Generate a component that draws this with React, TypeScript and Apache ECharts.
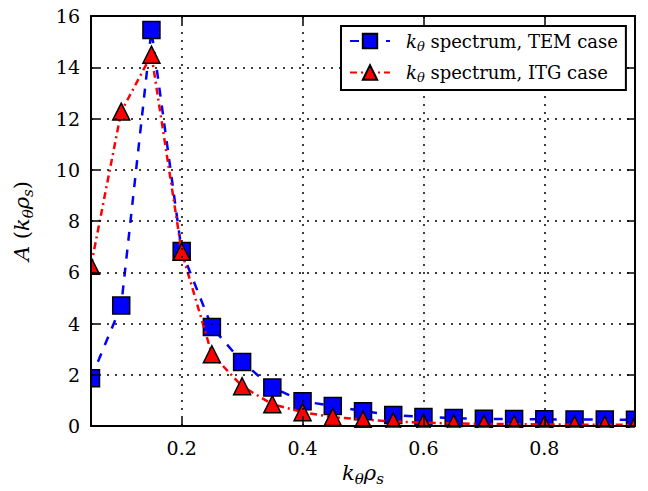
import React, { useEffect, useRef } from "react";
import * as echarts from "echarts";

const kValues = [0.05, 0.1, 0.15, 0.2, 0.25, 0.3, 0.35, 0.4, 0.45, 0.5, 0.55, 0.6, 0.65, 0.7, 0.75, 0.8, 0.85, 0.9, 0.95];
const temValues = [1.86, 4.7, 15.45, 6.83, 3.86, 2.5, 1.5, 0.97, 0.78, 0.58, 0.43, 0.35, 0.31, 0.28, 0.27, 0.26, 0.25, 0.25, 0.24];
const itgValues = [6.25, 12.27, 14.49, 6.8, 2.8, 1.55, 0.85, 0.54, 0.35, 0.25, 0.18, 0.13, 0.1, 0.08, 0.07, 0.06, 0.05, 0.05, 0.04];
const xTickValues = [0.2, 0.4, 0.6, 0.8];
const temName = "kθ spectrum, TEM case";
const itgName = "kθ spectrum, ITG case";

const FONT = "DejaVu Serif";

export default function App() {
  const ref = useRef<HTMLDivElement>(null);
  useEffect(() => {
    if (!ref.current) return;
    const chart = echarts.init(ref.current, null, { renderer: "svg" });
    const xMin = 0.05;
    const xMax = 0.95;
    const richLabel = {
      i: { fontFamily: FONT, fontStyle: "italic", fontSize: 21, color: "#000" },
      n: { fontFamily: FONT, fontSize: 21, color: "#000" },
      sub: { fontFamily: FONT, fontStyle: "italic", fontSize: 15, color: "#000", padding: [12, 0, 0, 0] },
    };
    const gridLine = { show: true, lineStyle: { color: "#000", type: [2, 6] as any, width: 1.5 } };
    const frameLine = { show: true, onZero: false, lineStyle: { color: "#000", width: 2 } };
    chart.setOption({
      animation: false,
      backgroundColor: "#fff",
      textStyle: { fontFamily: FONT },
      grid: { left: 91, right: 13, top: 16, bottom: 63, containLabel: false },
      xAxis: [
        {
          type: "value",
          min: xMin,
          max: xMax,
          position: "bottom",
          z: 10,
          axisLine: frameLine,
          axisTick: { show: true, inside: true, length: 8, customValues: xTickValues, lineStyle: { color: "#000", width: 1.5 } },
          axisLabel: { show: true, customValues: xTickValues, margin: 12, fontFamily: FONT, fontSize: 19, color: "#000", formatter: (v: number) => v.toFixed(1) },
          splitLine: gridLine,
          name: "{i|k}{sub|θ}{i|ρ}{sub|s}",
          nameLocation: "middle",
          nameGap: 33,
          nameTextStyle: { fontFamily: FONT, rich: richLabel },
        },
        {
          type: "value",
          min: xMin,
          max: xMax,
          position: "top",
          z: 10,
          axisLine: frameLine,
          axisTick: { show: true, inside: true, length: 8, customValues: xTickValues, lineStyle: { color: "#000", width: 1.5 } },
          axisLabel: { show: false },
          splitLine: { show: false },
        },
      ],
      yAxis: [
        {
          type: "value",
          min: 0,
          max: 16,
          interval: 2,
          position: "left",
          z: 10,
          axisLine: frameLine,
          axisTick: { show: true, inside: true, length: 8, lineStyle: { color: "#000", width: 1.5 } },
          axisLabel: { margin: 11, fontFamily: FONT, fontSize: 19, color: "#000" },
          splitLine: gridLine,
          name: "{i|A}{n| (}{i|k}{sub|θ}{i|ρ}{sub|s}{n|)}",
          nameLocation: "middle",
          nameGap: 56,
          nameRotate: 90,
          nameTextStyle: { fontFamily: FONT, rich: richLabel },
        },
        {
          type: "value",
          min: 0,
          max: 16,
          interval: 2,
          position: "right",
          z: 10,
          axisLine: frameLine,
          axisTick: { show: true, inside: true, length: 8, lineStyle: { color: "#000", width: 1.5 } },
          axisLabel: { show: false },
          splitLine: { show: false },
        },
      ],
      legend: {
        left: 341,
        top: 26,
        z: 20,
        orient: "vertical",
        backgroundColor: "#fff",
        borderColor: "#000",
        borderWidth: 2,
        borderRadius: 0,
        padding: [6, 8, 6, 8],
        itemGap: 11,
        itemWidth: 40,
        itemHeight: 18,
        data: [temName, itgName],
        formatter: (name: string) => `{g|}{i|k}{sub|θ}{t| spectrum, ${name.includes("TEM") ? "TEM" : "ITG"} case}`,
        textStyle: {
          fontFamily: FONT,
          fontSize: 18,
          color: "#000",
          rich: {
            g: { width: 11 },
            i: { fontFamily: FONT, fontStyle: "italic", fontSize: 18, color: "#000" },
            sub: { fontFamily: FONT, fontStyle: "italic", fontSize: 13, color: "#000", padding: [10, 0, 0, 0] },
            t: { fontFamily: FONT, fontSize: 18, color: "#000" },
          },
        },
      },
      graphic: [
        { type: "rect", z: 5, silent: true, shape: { x: 0, y: 0, width: 91, height: 491 }, style: { fill: "#fff" } },
        { type: "rect", z: 5, silent: true, shape: { x: 0, y: 428, width: 648, height: 63 }, style: { fill: "#fff" } },
        { type: "rect", z: 5, silent: true, shape: { x: 635, y: 0, width: 13, height: 491 }, style: { fill: "#fff" } },
        { type: "rect", z: 5, silent: true, shape: { x: 0, y: 0, width: 648, height: 16 }, style: { fill: "#fff" } },
      ],
      series: [
        {
          name: temName,
          type: "line",
          z: 2,
          clip: false,
          data: kValues.map((k, i) => [k, temValues[i]]),
          symbol: "rect",
          symbolSize: 17,
          showAllSymbol: true,
          lineStyle: { color: "#0000ff", width: 2.5, type: [9, 9] as any },
          itemStyle: { color: "#0000ff", borderColor: "#000", borderWidth: 1.5 },
        },
        {
          name: itgName,
          type: "line",
          z: 3,
          clip: false,
          data: kValues.map((k, i) => [k, itgValues[i]]),
          symbol: "triangle",
          symbolSize: 17,
          showAllSymbol: true,
          lineStyle: { color: "#ff0000", width: 2.5, type: [7, 4, 2, 4] as any },
          itemStyle: { color: "#ff0000", borderColor: "#000", borderWidth: 1.5 },
        },
      ],
    });
    return () => chart.dispose();
  }, []);
  return <div ref={ref} style={{ width: 648, height: 491, position: "absolute", left: 0, top: 0 }} />;
}
